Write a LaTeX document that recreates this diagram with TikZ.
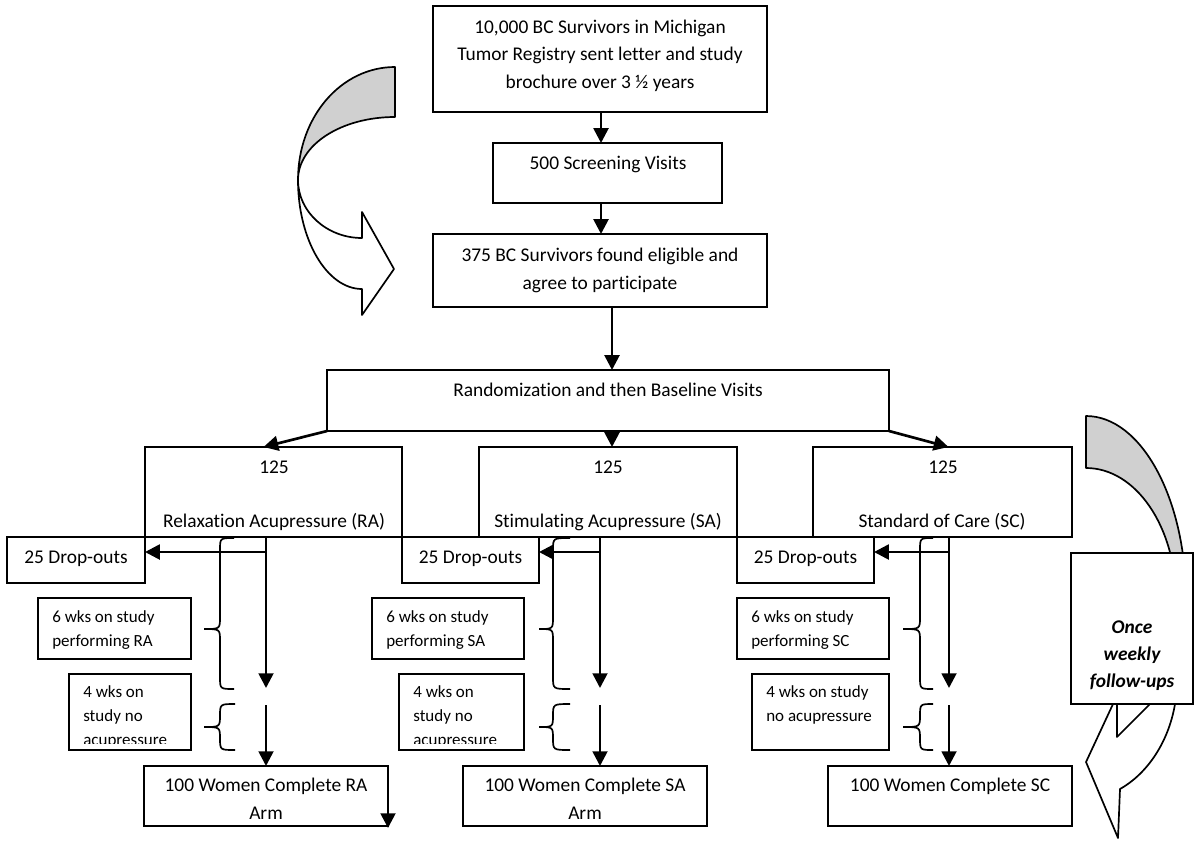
\documentclass[tikz,border=0pt]{standalone}
\usepackage{fontspec}
\setmainfont{Carlito}[Ligatures={NoCommon}]
\usetikzlibrary{arrows.meta,calc}
\definecolor{bandgray}{RGB}{208,208,208}
\tikzset{
  boxline/.style={draw=black, line width=1.5pt, fill=white, rectangle, inner sep=0pt, outer sep=0pt},
  arr/.style={line width=1.9pt, -{Triangle[length=10.5pt,width=10.5pt]}},
  brc/.style={line width=1.2pt},
  band/.style={draw=black, line width=1.2pt, line join=round},
  bigc/.style={font=\fontsize{13.8}{16}\selectfont, inner sep=0pt, anchor=base},
  bigbi/.style={font=\fontsize{13.8}{16}\selectfont\bfseries\itshape, inner sep=0pt, anchor=base},
  smallw/.style={font=\fontsize{12.1}{14}\selectfont, inner sep=0pt, anchor=base west},
}
\newcommand\mybox[5]{\node[boxline, minimum width={(#4-#2)*0.025cm}, minimum height={(#5-#3)*0.025cm}] (#1) at ({(#2+#4)/2},{(#3+#5)/2}) {};}
\newcommand\tl[5]{\node[#2] (#1) at (#3,#4) {#5};}
% brace: xend, xvert, xtip, ytop, ymid, ybot
\newcommand\mybrace[6]{\draw[brc] (#1,#4) .. controls (#2,#4) .. (#2,#4+12) -- (#2,#5-12) .. controls (#2,#5) .. (#3,#5) .. controls (#2,#5) .. (#2,#5+12) -- (#2,#6-12) .. controls (#2,#6) .. (#1,#6);}
\begin{document}
\begin{tikzpicture}[x=0.025cm,y=-0.025cm]
\useasboundingbox (0,0) rectangle (1200,843);

% ---------- left curved arrow ----------
\coordinate (LX) at (298,180);
\path[band, fill=bandgray] (395,67) .. controls (341,67) and (298,117) .. (LX)
   .. controls (298,145) and (341,117) .. (395,117) -- cycle;
\path[band, fill=white] (LX) .. controls (298,212) and (327,238) .. (362,238)
   -- (362,212) -- (394,269) -- (362,315) -- (362,289)
   .. controls (327,289) and (298,240) .. (LX) -- cycle;

% ---------- right curved arrow ----------
\path[band, fill=bandgray] (1086,416) .. controls (1141,416) and (1186,498) .. (1186,600)
   -- (1176,600) .. controls (1176,527) and (1136,468) .. (1086,468) -- cycle;
\path[band, fill=white] (1113,704) -- (1086,762) -- (1118,838) -- (1120,789)
   .. controls (1145,775) and (1168,745) .. (1175,704) -- cycle;
\draw[band] (1117,704) -- (1117,737) -- (1150,704);

% ---------- boxes ----------
\mybox{top}{433}{6}{767}{112}
\mybox{scr}{493}{143}{722}{203}
\mybox{elig}{433}{234}{767}{307}
\mybox{rand}{327}{370}{889}{431}
\mybox{ra}{145}{447}{402}{537}
\mybox{sa}{479}{447}{737}{537}
\mybox{sc}{813}{447}{1072}{537}
\mybox{radrop}{7}{537}{145}{583}
\mybox{sadrop}{402}{537}{539}{583}
\mybox{scdrop}{737}{537}{874}{583}
\mybox{rasix}{38}{598}{191}{659}
\mybox{sasix}{372}{598}{524}{659}
\mybox{scsix}{737}{598}{889}{659}
\mybox{rafour}{69}{674}{191}{750}
\mybox{safour}{399}{674}{524}{750}
\mybox{scfour}{752}{674}{889}{750}
\mybox{racomp}{144}{766}{388}{826}
\mybox{sacomp}{463}{766}{707}{826}
\mybox{sccomp}{828}{766}{1072}{826}
\mybox{weekly}{1071}{553}{1193}{704}

% ---------- texts ----------
\tl{t1a}{bigc}{600}{33}{10,000 BC Survivors in Michigan}
\tl{t1b}{bigc}{600}{60.5}{Tumor Registry sent letter and study}
\tl{t1c}{bigc}{600}{88}{brochure over 3 ½ years}
\tl{t2}{bigc}{608}{169}{500 Screening Visits}
\tl{t3a}{bigc}{600}{261}{375 BC Survivors found eligible and}
\tl{t3b}{bigc}{600}{289}{agree to participate}
\tl{t4}{bigc}{608}{396}{Randomization and then Baseline Visits}
\tl{t5a}{bigc}{274}{473}{125}
\tl{t5b}{bigc}{274}{527}{Relaxation Acupressure (RA)}
\tl{t6a}{bigc}{608}{473}{125}
\tl{t6b}{bigc}{608}{527}{Stimulating Acupressure (SA)}
\tl{t7a}{bigc}{943}{473}{125}
\tl{t7b}{bigc}{942}{527}{Standard of Care (SC)}
\tl{t8}{bigc}{76}{563}{25 Drop-outs}
\tl{t9}{bigc}{470.5}{563}{25 Drop-outs}
\tl{t10}{bigc}{805.5}{563}{25 Drop-outs}
\tl{t11a}{smallw}{52}{622}{6 wks on study}
\tl{t11b}{smallw}{52}{646}{performing RA}
\tl{t12a}{smallw}{386}{622}{6 wks on study}
\tl{t12b}{smallw}{386}{646}{performing SA}
\tl{t13a}{smallw}{751}{622}{6 wks on study}
\tl{t13b}{smallw}{751}{646}{performing SC}
\begin{scope}
  \clip (69,674) rectangle (191,743);
  \tl{t14a}{smallw}{83}{697}{4 wks on}
  \tl{t14b}{smallw}{83}{721}{study no}
  \tl{t14c}{smallw}{83}{745}{acupressure}
\end{scope}
\begin{scope}
  \clip (399,674) rectangle (524,743);
  \tl{t15a}{smallw}{413}{697}{4 wks on}
  \tl{t15b}{smallw}{413}{721}{study no}
  \tl{t15c}{smallw}{413}{745}{acupressure}
\end{scope}
\tl{t16a}{smallw}{766}{697}{4 wks on study}
\tl{t16b}{smallw}{766}{721}{no acupressure}
\tl{t17a}{bigc}{266}{791}{100 Women Complete RA}
\tl{t17b}{bigc}{266}{819}{Arm}
\tl{t18a}{bigc}{585}{791}{100 Women Complete SA}
\tl{t18b}{bigc}{585}{819}{Arm}
\tl{t19}{bigc}{950}{791}{100 Women Complete SC}
\tl{t20a}{bigbi}{1132}{633}{Once}
\tl{t20b}{bigbi}{1132}{660}{weekly}
\tl{t20c}{bigbi}{1132}{687}{follow-ups}

% ---------- connectors ----------
\coordinate (c1) at (601,0);
\coordinate (c2) at (612,0);
\draw[arr] (c1 |- top.south) -- (c1 |- scr.north);
\draw[arr] (c1 |- scr.south) -- (c1 |- elig.north);
\draw[arr] (c2 |- elig.south) -- (c2 |- rand.north);
\draw[arr] (rand.south west) -- ($(ra.north)+(-10,0)$);
\draw[arr] (c2 |- rand.south) -- (c2 |- sa.north);
\draw[arr] (rand.south east) -- ($(sc.north)+(6,0)$);

% column coordinates
\coordinate (raA) at (266,688); \coordinate (raB) at (266,705); \coordinate (raD) at (266,552);
\coordinate (saA) at (600,688); \coordinate (saB) at (600,705); \coordinate (saD) at (600,552);
\coordinate (scA) at (949,688); \coordinate (scB) at (949,705); \coordinate (scD) at (949,552);

\draw[arr] (raA |- ra.south) -- (raA);
\draw[arr] (raB) -- (raB |- racomp.north);
\draw[arr] (raD) -- (raD -| radrop.east);
\draw[arr] (saA |- sa.south) -- (saA);
\draw[arr] (saB) -- (saB |- sacomp.north);
\draw[arr] (saD) -- (saD -| sadrop.east);
\draw[arr] (scA |- sc.south) -- (scA);
\draw[arr] (scB) -- (scB |- sccomp.north);
\draw[arr] (scD) -- (scD -| scdrop.east);
\draw[arr] (racomp.north east) -- ($(racomp.south east)+(0,2)$);

% ---------- braces ----------
\mybrace{234}{220}{204}{538}{629}{689}
\mybrace{235}{220}{204}{704}{727}{750}
\mybrace{570}{553}{539}{538}{629}{689}
\mybrace{570}{553}{539}{704}{727}{750}
\mybrace{933}{920}{903}{538}{629}{689}
\mybrace{933}{920}{903}{704}{727}{750}
\end{tikzpicture}
\end{document}
